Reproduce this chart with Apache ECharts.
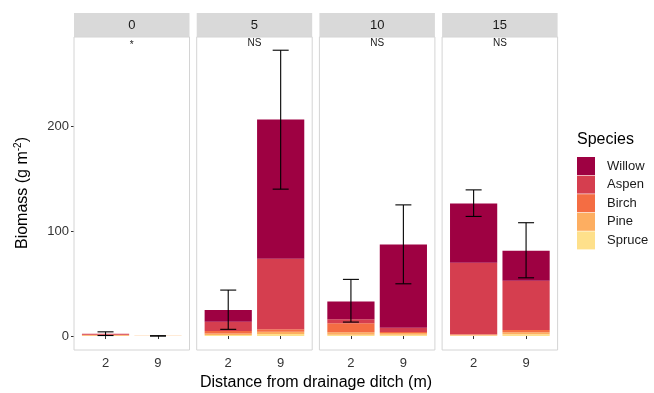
<!DOCTYPE html>
<html>
<head>
<meta charset="utf-8">
<script src="https://cdn.jsdelivr.net/npm/echarts@6/dist/echarts.min.js"></script>
<style>
  html, body { margin: 0; padding: 0; background: #fff; }
  #chart { width: 654px; height: 393px; }
</style>
</head>
<body>
<div id="chart"></div>
<script>
// facets (ditch age) and distances inside each facet
const panels = ['0', '5', '10', '15'];
const distances = ['2', '9'];
const signif = ['*', 'NS', 'NS', 'NS'];

// one value per bar: panel 0 (2, 9), panel 5 (2, 9), panel 10 (2, 9), panel 15 (2, 9)
const spruce = [0.3, 0.1, 1.0, 1.9, 1.3, 1.3, 0.5, 1.6];
const pine = [0.7, 0.1, 1.5, 2.2, 2.2, 1.6, 0.8, 1.9];
const birch = [0.2, 0.0, 2.3, 2.3, 8.6, 0.9, 0.3, 2.2];
const aspen = [1.0, 0.0, 8.8, 67.2, 3.8, 4.1, 68.2, 47.0];
const willow = [0.0, 0.0, 11.2, 132.7, 17.1, 79.4, 56.6, 28.5];
const errLow = [0.5, 0.0, 6.4, 140, 13.3, 49.8, 114, 55.5];
const errHigh = [4.0, 0.3, 43.8, 272.4, 54, 125, 139.3, 108];
const yTicks = [0, 100, 200];

const species = [
  {name: 'Spruce', data: spruce, color: '#FEE08B'},
  {name: 'Pine', data: pine, color: '#FDAE61'},
  {name: 'Birch', data: birch, color: '#F46D43'},
  {name: 'Aspen', data: aspen, color: '#D53E4F'},
  {name: 'Willow', data: willow, color: '#9E0142'}
];

const font = 'Liberation Sans, Arial, sans-serif';
const panelLeft = 74, panelStep = 122.7, panelW = 115.5;
const panelTop = 37, panelH = 313, stripH = 24;
const inset = 5.3;

const grids = [], xAxes = [], yAxes = [], series = [], graphics = [];

panels.forEach((p, i) => {
  const left = panelLeft + i * panelStep;
  grids.push({left: left + inset, top: panelTop, width: panelW - 2 * inset, height: panelH});
  xAxes.push({
    type: 'category', gridIndex: i, data: distances,
    axisLine: {show: false},
    axisTick: {show: true, alignWithLabel: true, length: 3, lineStyle: {color: '#333'}},
    axisLabel: {color: '#333', fontSize: 13, fontFamily: font, margin: 7}
  });
  yAxes.push({
    type: 'value', gridIndex: i, min: -13.3, max: 285,
    show: i === 0, offset: inset,
    splitLine: {show: false},
    axisLine: {show: false},
    axisTick: {show: true, length: 3, lineStyle: {color: '#333'}, customValues: yTicks},
    axisLabel: {color: '#333', fontSize: 13, fontFamily: font, margin: 5, customValues: yTicks}
  });

  species.forEach(s => {
    series.push({
      type: 'bar', name: s.name, xAxisIndex: i, yAxisIndex: i,
      stack: 'p' + i, barWidth: '90%',
      itemStyle: {color: s.color},
      data: s.data.slice(i * 2, i * 2 + 2)
    });
  });

  series.push({
    type: 'custom', xAxisIndex: i, yAxisIndex: i, silent: true, z: 10,
    encode: {x: 0, y: [1, 2]},
    data: [0, 1].map(k => [k, errLow[i * 2 + k], errHigh[i * 2 + k]]),
    renderItem: (params, api) => {
      const lo = api.coord([api.value(0), api.value(1)]);
      const hi = api.coord([api.value(0), api.value(2)]);
      const cap = 8;
      const st = {stroke: '#000', lineWidth: 1.1};
      return {
        type: 'group',
        children: [
          {type: 'line', shape: {x1: lo[0], y1: lo[1], x2: hi[0], y2: hi[1]}, style: st},
          {type: 'line', shape: {x1: lo[0] - cap, y1: lo[1], x2: lo[0] + cap, y2: lo[1]}, style: st},
          {type: 'line', shape: {x1: hi[0] - cap, y1: hi[1], x2: hi[0] + cap, y2: hi[1]}, style: st}
        ]
      };
    }
  });

  // panel border, strip and strip label
  graphics.push({
    type: 'rect', z: 100, silent: true,
    shape: {x: left, y: panelTop, width: panelW, height: panelH},
    style: {fill: 'none', stroke: '#d4d4d4', lineWidth: 1}
  });
  graphics.push({
    type: 'rect', z: 99, silent: true,
    shape: {x: left, y: panelTop - stripH, width: panelW, height: stripH},
    style: {fill: '#d9d9d9'}
  });
  graphics.push({
    type: 'text', x: left + panelW / 2, y: panelTop - stripH / 2, z: 101,
    style: {text: p, fill: '#1a1a1a', font: '13px ' + font, textAlign: 'center', textVerticalAlign: 'middle'}
  });
  graphics.push({
    type: 'text', x: left + panelW / 2, y: signif[i] === '*' ? 45 : 43, z: 101,
    style: {text: signif[i], fill: '#1a1a1a', font: '10px ' + font, textAlign: 'center', textVerticalAlign: 'middle'}
  });
});

// axis titles and legend title
graphics.push({
  type: 'text', x: 316, y: 383,
  style: {text: 'Distance from drainage ditch (m)', fill: '#000', font: '16px ' + font, textAlign: 'center', textVerticalAlign: 'middle'}
});
graphics.push({
  type: 'text', x: 23, y: 193, rotation: Math.PI / 2,
  style: {
    text: '{a|Biomass (g m}{s|-2}{a|)}',
    textAlign: 'center', textVerticalAlign: 'middle',
    rich: {
      a: {fontSize: 16, fontFamily: font, fill: '#000'},
      s: {fontSize: 10, fontFamily: font, fill: '#000', padding: [0, 0, 10, 0]}
    }
  }
});
graphics.push({
  type: 'text', x: 577, y: 140,
  style: {text: 'Species', fill: '#000', font: '16px ' + font, textAlign: 'left', textVerticalAlign: 'middle'}
});

const chart = echarts.init(document.getElementById('chart'), null, {renderer: 'canvas'});
chart.setOption({
  animation: false,
  backgroundColor: '#fff',
  grid: grids,
  xAxis: xAxes,
  yAxis: yAxes,
  legend: {
    orient: 'vertical', left: 577, top: 157, padding: 0,
    itemWidth: 18, itemHeight: 18, itemGap: 0.6,
    icon: 'rect',
    data: ['Willow', 'Aspen', 'Birch', 'Pine', 'Spruce'],
    textStyle: {fontSize: 13, fontFamily: font, color: '#1a1a1a', padding: [0, 0, 0, 7]},
    selectedMode: false
  },
  graphic: graphics,
  series: series
});
</script>
</body>
</html>
